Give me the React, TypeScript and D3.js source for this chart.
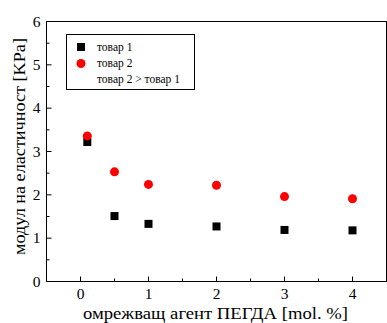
import React from "react";
import * as d3 from "d3";

const xValues = [0.1, 0.5, 1, 2, 3, 4];
const series1 = [3.22, 1.51, 1.33, 1.27, 1.19, 1.18];
const series2 = [3.36, 2.53, 2.24, 2.22, 1.96, 1.91];
const xTicks = [0, 1, 2, 3, 4];
const yTicks = [0, 1, 2, 3, 4, 5, 6];
const legendLabels = ["товар 1", "товар 2", "товар 2 > товар 1"];

const W = 387, H = 323;
const left = 46.5, right = 386.5, top = 21.5, bottom = 281.5;
const font = "'Liberation Serif', 'Times New Roman', serif";

export default function App() {
  const x = d3.scaleLinear().domain([-0.5, 4.5]).range([left, right]);
  const y = d3.scaleLinear().domain([0, 6]).range([bottom, top]);
  const xMinor = d3.range(-0.5, 4.51, 0.5).filter((v) => !xTicks.includes(v));
  const yMinor = d3.range(0.5, 6, 1);
  return (
    <svg width={W} height={H} style={{ position: "absolute", left: 0, top: 0 }}>
      <rect x={0} y={0} width={W} height={H} fill="#fff" />
      <rect x={left} y={top} width={right - left} height={bottom - top} fill="none" stroke="#000" strokeWidth={1} />
      {xTicks.map((t) => (
        <g key={"xt" + t}>
          <line x1={x(t)} x2={x(t)} y1={bottom} y2={bottom - 5} stroke="#000" />
          <text x={x(t)} y={bottom + 17.5} textAnchor="middle" fontFamily={font} fontSize={15.5}>{t}</text>
        </g>
      ))}
      {xMinor.map((t) => (
        <line key={"xm" + t} x1={x(t)} x2={x(t)} y1={bottom} y2={bottom - 3} stroke="#000" />
      ))}
      {yTicks.map((t) => (
        <g key={"yt" + t}>
          <line x1={left} x2={left + 5} y1={y(t)} y2={y(t)} stroke="#000" />
          <text x={left - 6} y={y(t) + 5} textAnchor="end" fontFamily={font} fontSize={15.5}>{t}</text>
        </g>
      ))}
      {yMinor.map((t) => (
        <line key={"ym" + t} x1={left} x2={left + 3} y1={y(t)} y2={y(t)} stroke="#000" />
      ))}
      {xValues.map((v, i) => (
        <rect key={"s1" + i} x={x(v) - 4} y={y(series1[i]) - 4} width={8} height={8} fill="#000" />
      ))}
      {xValues.map((v, i) => (
        <circle key={"s2" + i} cx={x(v)} cy={y(series2[i])} r={4.5} fill="#ff0000" />
      ))}
      <rect x={66.5} y={34.5} width={128} height={55} fill="#fff" stroke="#000" />
      <rect x={77} y={43} width={8} height={8} fill="#000" />
      <circle cx={81} cy={63.5} r={4.5} fill="#ff0000" />
      {legendLabels.map((l, i) => (
        <text key={l} x={97} y={51 + i * 16} fontFamily={font} fontSize={11.5}>{l}</text>
      ))}
      <text x={83} y={319} fontFamily={font} fontSize={16} textLength={265} lengthAdjust="spacingAndGlyphs">омрежващ агент ПЕГДА [mol. %]</text>
      <text transform={`translate(24.5, 255) rotate(-90)`} fontFamily={font} fontSize={16} textLength={217} lengthAdjust="spacingAndGlyphs">модул на еластичност [KPa]</text>
    </svg>
  );
}
